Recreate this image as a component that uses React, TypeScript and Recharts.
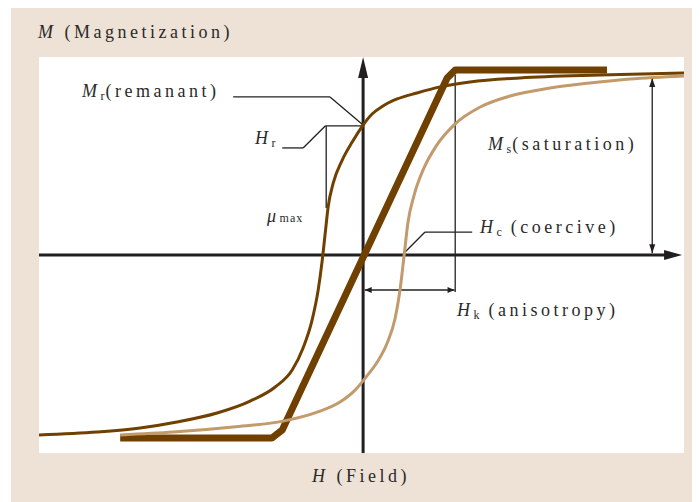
import React from 'react';
import {
  ComposedChart,
  Line,
  XAxis,
  YAxis,
  ReferenceLine,
  ReferenceDot,
} from 'recharts';

// descending branch of the loop (dark), sorted by field
const descH = [-10.1, -8.29, -6.95, -5.8, -4.55, -3.52, -2.74, -2.21, -1.87, -1.59, -1.4, -1.28, -1.18, -1.09, -0.93, -0.65, -0.34, 0, 0.28, 0.62, 1.06, 1.68, 2.4, 3.33, 4.89, 7.39, 10.0];
const descM = [-0.982, -0.966, -0.944, -0.911, -0.862, -0.797, -0.72, -0.627, -0.507, -0.355, -0.191, -0.038, 0.12, 0.262, 0.393, 0.518, 0.616, 0.709, 0.769, 0.813, 0.851, 0.884, 0.917, 0.944, 0.966, 0.982, 0.993];

// ascending branch (light)
const ascH = [-7.57, -5.92, -4.05, -2.49, -1.43, -0.72, -0.25, 0.09, 0.44, 0.75, 1.0, 1.15, 1.28, 1.4, 1.59, 1.87, 2.28, 2.87, 3.65, 4.58, 5.83, 7.07, 8.32, 10.0];
const ascM = [-0.982, -0.966, -0.938, -0.906, -0.857, -0.802, -0.737, -0.666, -0.584, -0.48, -0.344, -0.191, 0, 0.18, 0.327, 0.464, 0.595, 0.715, 0.807, 0.867, 0.911, 0.938, 0.96, 0.977];

// anisotropy (hard axis) line
const anisoH = [-7.57, -2.84, -2.52, 2.62, 2.87, 7.6];
const anisoM = [-0.998, -0.998, -0.955, 0.966, 1.009, 1.009];

const toPts = (hs: number[], ms: number[]) => hs.map((h, i) => ({ h, m: ms[i] }));
const descData = toPts(descH, descM);
const ascData = toPts(ascH, ascM);
const anisoData = toPts(anisoH, anisoM);

const DARK = '#704000';
const TAN = '#c29a6c';
const INK = '#231f20';
const BEIGE = '#ede2d5';

const W = 689;
const H = 494;
const margin = { top: 49, right: 16, bottom: 49, left: 28 };

type Dir = 'up' | 'down' | 'left' | 'right';
const arrow = (dir: Dir, len: number, half: number) => (p: any) => {
  const { cx, cy } = p;
  let d = '';
  if (dir === 'up') d = `M${cx},${cy} L${cx - half},${cy + len} L${cx + half},${cy + len} Z`;
  if (dir === 'down') d = `M${cx},${cy} L${cx - half},${cy - len} L${cx + half},${cy - len} Z`;
  if (dir === 'right') d = `M${cx},${cy} L${cx - len},${cy - half} L${cx - len},${cy + half} Z`;
  if (dir === 'left') d = `M${cx},${cy} L${cx + len},${cy - half} L${cx + len},${cy + half} Z`;
  return <path d={d} fill={INK} />;
};

const thin = { stroke: INK, strokeWidth: 1.3 };
const seg = (x1: number, y1: number, x2: number, y2: number) => [
  { x: x1, y: y1 },
  { x: x2, y: y2 },
];

const font = { fontFamily: '"Liberation Serif", serif', fontSize: 18, fill: '#2a2a2a', letterSpacing: 3.5 };
const sub = { fontSize: 12, letterSpacing: 1 };

export default function App() {
  return (
    <div style={{ position: 'relative', width: W, height: H, marginLeft: 3, background: BEIGE }}>
      <div
        style={{
          position: 'absolute',
          left: margin.left,
          top: margin.top,
          width: W - margin.left - margin.right,
          height: H - margin.top - margin.bottom,
          background: '#fff',
        }}
      />
      <div style={{ position: 'absolute', left: 0, top: 0 }}>
        <ComposedChart width={W} height={H} margin={margin}>
          <XAxis type="number" dataKey="h" domain={[-10.1, 10]} allowDataOverflow hide />
          <YAxis type="number" dataKey="m" domain={[-1.08, 1.08]} allowDataOverflow hide />

          {/* axes */}
          <ReferenceLine segment={seg(-10.1, 0, 9.7, 0)} stroke={INK} strokeWidth={3} ifOverflow="visible" />
          <ReferenceLine segment={seg(0, -1.08, 0, 1.0)} stroke={INK} strokeWidth={3} ifOverflow="visible" />
          <ReferenceDot x={9.94} y={0} ifOverflow="visible" shape={arrow('right', 18, 5)} />
          <ReferenceDot x={0} y={1.08} ifOverflow="visible" shape={arrow('up', 21, 5)} />

          {/* leader lines */}
          <ReferenceLine segment={seg(-4.05, 0.862, -1.03, 0.862)} {...thin} />
          <ReferenceLine segment={seg(-1.03, 0.862, 0, 0.709)} {...thin} />
          <ReferenceLine segment={seg(-2.52, 0.584, -1.87, 0.584)} {...thin} />
          <ReferenceLine segment={seg(-1.87, 0.584, -1.18, 0.704)} {...thin} />
          <ReferenceLine segment={seg(-1.18, 0.704, -0.03, 0.704)} {...thin} />
          <ReferenceLine segment={seg(-1.15, 0.704, -1.15, 0.256)} {...thin} />
          <ReferenceLine segment={seg(1.31, 0.016, 1.93, 0.125)} {...thin} />
          <ReferenceLine segment={seg(1.93, 0.125, 3.4, 0.125)} {...thin} />

          {/* Hk dimension */}
          <ReferenceLine segment={seg(2.87, 0.982, 2.87, -0.202)} {...thin} />
          <ReferenceLine segment={seg(0.05, -0.191, 2.85, -0.191)} {...thin} />
          <ReferenceDot x={0.05} y={-0.191} ifOverflow="visible" shape={arrow('left', 7, 3)} />
          <ReferenceDot x={2.85} y={-0.191} ifOverflow="visible" shape={arrow('right', 7, 3)} />

          {/* Ms dimension */}
          <ReferenceLine segment={seg(9.01, 0.966, 9.01, 0.01)} {...thin} />
          <ReferenceDot x={9.01} y={0.966} ifOverflow="visible" shape={arrow('up', 9, 3)} />
          <ReferenceDot x={9.01} y={0.01} ifOverflow="visible" shape={arrow('down', 9, 3)} />

          <Line data={anisoData} dataKey="m" type="linear" stroke={DARK} strokeWidth={7} dot={false} isAnimationActive={false} strokeLinejoin="round" />
          <Line data={descData} dataKey="m" type="monotone" stroke={DARK} strokeWidth={3} dot={false} isAnimationActive={false} />
          <Line data={ascData} dataKey="m" type="monotone" stroke={TAN} strokeWidth={3} dot={false} isAnimationActive={false} />
        </ComposedChart>
      </div>

      <svg width={W} height={H} style={{ position: 'absolute', left: 0, top: 0, pointerEvents: 'none' }}>
        <g style={font as any}>
          <text x={27} y={30}>
            <tspan fontStyle="italic">M</tspan> (Magnetization)
          </text>
          <text x={71} y={89}>
            <tspan fontStyle="italic">M</tspan>
            <tspan {...sub} dy={3}>r</tspan>
            <tspan dy={-3}>(remanant)</tspan>
          </text>
          <text x={244} y={136}>
            <tspan fontStyle="italic">H</tspan>
            <tspan {...sub} dy={3}>r</tspan>
          </text>
          <text x={256} y={214}>
            <tspan fontStyle="italic">μ</tspan>
            <tspan {...sub}>max</tspan>
          </text>
          <text x={477} y={142}>
            <tspan fontStyle="italic">M</tspan>
            <tspan {...sub} dy={3}>s</tspan>
            <tspan dy={-3}>(saturation)</tspan>
          </text>
          <text x={469} y={225}>
            <tspan fontStyle="italic">H</tspan>
            <tspan {...sub} dy={3}>c</tspan>
            <tspan dy={-3}> (coercive)</tspan>
          </text>
          <text x={446} y={308}>
            <tspan fontStyle="italic">H</tspan>
            <tspan {...sub} dy={3}>k</tspan>
            <tspan dy={-3}> (anisotropy)</tspan>
          </text>
          <text x={301} y={474}>
            <tspan fontStyle="italic">H</tspan> (Field)
          </text>
        </g>
      </svg>
    </div>
  );
}
